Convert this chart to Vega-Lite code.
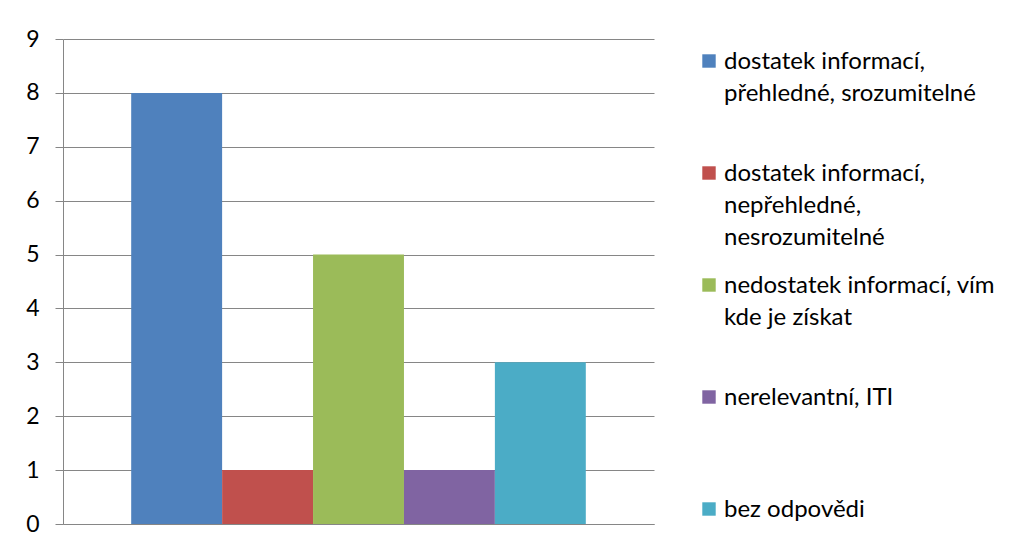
{
  "$schema": "https://vega.github.io/schema/vega-lite/v6.json",
  "width": 591,
  "height": 485,
  "autosize": "none",
  "padding": {"left": 63, "top": 39, "right": 363, "bottom": 29},
  "background": "white",
  "config": {
    "view": {"stroke": null},
    "font": "Lato"
  },
  "data": {
    "values": [
      {"series": "dostatek informací, přehledné, srozumitelné", "value": 8, "order": 1},
      {"series": "dostatek informací, nepřehledné, nesrozumitelné", "value": 1, "order": 2},
      {"series": "nedostatek informací, vím kde je získat", "value": 5, "order": 3},
      {"series": "nerelevantní, ITI", "value": 1, "order": 4},
      {"series": "bez odpovědi", "value": 3, "order": 5}
    ]
  },
  "mark": {"type": "bar"},
  "encoding": {
    "x": {
      "field": "series",
      "type": "nominal",
      "sort": {"field": "order"},
      "scale": {"paddingInner": 0, "paddingOuter": 0.75},
      "axis": {
        "title": null,
        "labels": false,
        "ticks": false,
        "domainColor": "#868686",
        "domainWidth": 1
      }
    },
    "y": {
      "field": "value",
      "type": "quantitative",
      "scale": {"domain": [0, 9], "nice": false},
      "axis": {
        "title": null,
        "values": [0, 1, 2, 3, 4, 5, 6, 7, 8, 9],
        "grid": true,
        "gridColor": "#868686",
        "gridOpacity": 1,
        "domainColor": "#868686",
        "tickColor": "#868686",
        "tickSize": 8,
        "labelPadding": 16,
        "labelFont": "Lato",
        "labelFontSize": 23,
        "labelColor": "#000000"
      }
    },
    "color": {
      "field": "series",
      "type": "nominal",
      "sort": {"field": "order"},
      "scale": {
        "domain": [
          "dostatek informací, přehledné, srozumitelné",
          "dostatek informací, nepřehledné, nesrozumitelné",
          "nedostatek informací, vím kde je získat",
          "nerelevantní, ITI",
          "bez odpovědi"
        ],
        "range": ["#4F81BD", "#C0504D", "#9BBB59", "#8064A2", "#4BACC6"]
      },
      "legend": {
        "title": null,
        "orient": "none",
        "legendX": 634,
        "legendY": 10,
        "padding": 0,
        "symbolType": "square",
        "symbolSize": 180,
        "symbolStrokeWidth": 0,
        "labelFont": "Lato",
        "labelFontSize": 24,
        "labelColor": "#000000",
        "labelLimit": 400,
        "labelOffset": 3,
        "labelBaseline": "alphabetic",
        "rowPadding": 23,
        "labelExpr": "datum.label == 'dostatek informací, přehledné, srozumitelné' ? ['dostatek informací,', 'přehledné, srozumitelné', ''] : datum.label == 'dostatek informací, nepřehledné, nesrozumitelné' ? ['dostatek informací,', 'nepřehledné,', 'nesrozumitelné'] : datum.label == 'nedostatek informací, vím kde je získat' ? ['nedostatek informací, vím', 'kde je získat', ''] : [datum.label, '', '']",
        "encode": {
          "labels": {"update": {"dy": {"value": 8}, "lineHeight": {"value": 32}}}
        }
      }
    }
  }
}
